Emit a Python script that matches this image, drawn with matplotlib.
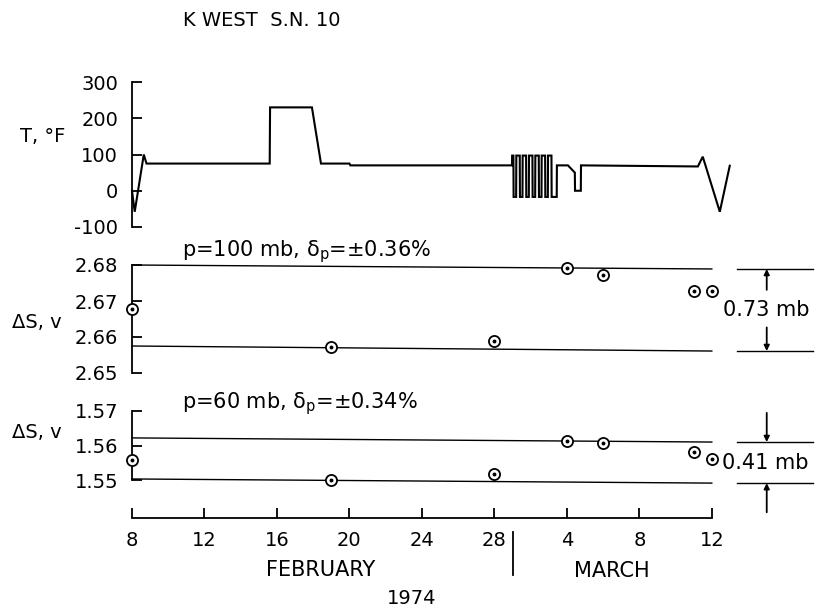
import matplotlib
matplotlib.use("Agg")
import matplotlib.pyplot as plt
from matplotlib.transforms import blended_transform_factory

plt.rcParams['font.family'] = ['DejaVu Sans']
plt.rcParams['mathtext.fontset'] = 'dejavusans'

W, H, DPI = 817, 608, 100

# ---------------- data ----------------
# temperature trace, day counted from Feb 0 1974 (Mar 1 = 29)
t_day = [8.0, 8.15, 8.65, 8.8, 15.6, 15.62, 17.93, 18.43, 20.0, 20.05,
         28.97, 28.98, 29.05, 29.06, 29.2, 29.21, 29.4, 29.41, 29.55, 29.56,
         29.75, 29.76, 29.9, 29.91, 30.1, 30.11, 30.25, 30.26, 30.45, 30.46,
         30.6, 30.61, 30.8, 30.81, 30.95, 30.96, 31.15, 31.16, 31.44, 31.45,
         32.06, 32.44, 32.45, 32.77, 32.78, 39.23, 39.5, 40.44, 40.99]
t_val = [0, -58, 100, 75, 75, 230, 230, 75, 75, 70,
         70, 97, 97, -17, -17, 97, 97, -17, -17, 97,
         97, -17, -17, 97, 97, -17, -17, 97, 97, -17,
         -17, 97, 97, -17, -17, 97, 97, -17, -17, 70,
         70, 50, 0, 0, 70, 67, 94, -58, 69]

dates = [8, 19, 28, 32, 34, 39, 40]
ds100 = [2.6678, 2.6572, 2.6589, 2.6792, 2.6772, 2.6728, 2.6728]
ds60 = [1.5558, 1.5500, 1.5517, 1.5613, 1.5607, 1.5581, 1.5561]

limit_x = [8, 40]
ds100_upper = [2.6800, 2.6789]
ds100_lower = [2.6575, 2.6561]
ds60_upper = [1.5622, 1.5610]
ds60_lower = [1.5503, 1.5491]

x_ticks = [8, 12, 16, 20, 24, 28, 32, 36, 40]
x_ticklabels = ['8', '12', '16', '20', '24', '28', '4', '8', '12']
t_ticks = [-100, 0, 100, 200, 300]
ds100_ticks = [2.65, 2.66, 2.67, 2.68]
ds60_ticks = [1.55, 1.56, 1.57]

title = "K WEST  S.N. 10"
label100 = r"p=100 mb, δ$_\mathrm{p}$=±0.36%"
label60 = r"p=60 mb, δ$_\mathrm{p}$=±0.34%"
span100 = "0.73 mb"
span60 = "0.41 mb"

# ---------------- layout ----------------
fig = plt.figure(figsize=(W / DPI, H / DPI), dpi=DPI)

def ax_px(left, top, right, bottom):
    return fig.add_axes([left / W, 1 - bottom / H, (right - left) / W, (bottom - top) / H])

XL, XR = 132, 739
XLIM = (8, 41.5)
TS = 14
LW = 1.3

def style(ax, yticks, ylim, fmt):
    ax.set_xlim(*XLIM)
    ax.set_ylim(*ylim)
    for s in ['top', 'right', 'bottom']:
        ax.spines[s].set_visible(False)
    ax.spines['left'].set_linewidth(LW)
    ax.set_yticks(yticks)
    ax.set_yticklabels([fmt(v) for v in yticks])
    ax.tick_params(axis='y', direction='in', length=7, width=LW, labelsize=TS, pad=10)
    ax.tick_params(axis='x', bottom=False, labelbottom=False)
    ax.patch.set_visible(False)

ax1 = ax_px(XL, 82, XR, 227)
ax2 = ax_px(XL, 265, XR, 373)
ax3 = ax_px(XL, 411, XR, 480)

style(ax1, t_ticks, (-100, 300), lambda v: f"{v:d}")
style(ax2, ds100_ticks, (2.65, 2.68), lambda v: f"{v:.2f}")
style(ax3, ds60_ticks, (1.55, 1.57), lambda v: f"{v:.2f}")

ax1.plot(t_day, t_val, color='black', lw=1.5, clip_on=False, solid_joinstyle='miter')

def points(ax, x, y):
    ax.plot(x, y, 'o', ms=8, mfc='white', mec='black', mew=1.3, clip_on=False, zorder=5)
    ax.plot(x, y, 'o', ms=1.8, mfc='black', mec='black', clip_on=False, zorder=6)

for ax, up, lo, vals in [(ax2, ds100_upper, ds100_lower, ds100),
                         (ax3, ds60_upper, ds60_lower, ds60)]:
    ax.plot(limit_x, up, color='black', lw=1.0, clip_on=False)
    ax.plot(limit_x, lo, color='black', lw=1.0, clip_on=False)
    points(ax, dates, vals)
    # bracket lines at right
    ax.plot([41.38, 45.57], [up[-1], up[-1]], color='black', lw=1.0, clip_on=False)
    ax.plot([41.38, 45.57], [lo[-1], lo[-1]], color='black', lw=1.0, clip_on=False)

AX_ARROW = 43.03
arrow_kw = dict(arrowstyle='-|>', color='black', lw=1.3, mutation_scale=8, shrinkA=0, shrinkB=0)

# 100 mb span: arrows inside
ax2.annotate('', xy=(AX_ARROW, ds100_upper[-1]), xytext=(0, -15), textcoords='offset points',
             arrowprops=arrow_kw, annotation_clip=False)
ax2.annotate('', xy=(AX_ARROW, ds100_lower[-1]), xytext=(0, 17), textcoords='offset points',
             arrowprops=arrow_kw, annotation_clip=False)
ax2.text(AX_ARROW - 0.05, (ds100_upper[-1] + ds100_lower[-1]) / 2, span100, ha='center', va='center',
         fontsize=15, clip_on=False)

# 60 mb span: arrows outside
ax3.annotate('', xy=(AX_ARROW, ds60_upper[-1]), xytext=(0, 21), textcoords='offset points',
             arrowprops=arrow_kw, annotation_clip=False)
ax3.annotate('', xy=(AX_ARROW, ds60_lower[-1]), xytext=(0, -21), textcoords='offset points',
             arrowprops=arrow_kw, annotation_clip=False)
ax3.text(AX_ARROW - 0.1, (ds60_upper[-1] + ds60_lower[-1]) / 2, span60, ha='center', va='center',
         fontsize=15, clip_on=False)

# bottom axis
ax3.spines['bottom'].set_visible(True)
ax3.spines['bottom'].set_position(('outward', 38 * 72 / DPI))
ax3.spines['bottom'].set_bounds(8, 40)
ax3.spines['bottom'].set_linewidth(LW)
ax3.set_xticks(x_ticks)
ax3.set_xticklabels(x_ticklabels)
ax3.tick_params(axis='x', bottom=True, labelbottom=True, direction='in', length=7,
                width=LW, labelsize=TS, pad=9)

# month separator
tr = blended_transform_factory(ax3.transData, fig.transFigure)
ax3.plot([29, 29], [1 - 532 / H, 1 - 575 / H], color='black', lw=1.3, transform=tr, clip_on=False)

def ftext(px, py, s, **kw):
    fig.text(px / W, 1 - py / H, s, **kw)

ftext(183, 20, title, fontsize=14, ha='left', va='center')
ftext(20, 137, "T, °F", fontsize=14, ha='left', va='center')
ftext(12, 322, "ΔS, v", fontsize=14, ha='left', va='center')
ftext(12, 433, "ΔS, v", fontsize=14, ha='left', va='center')
ftext(182, 256, label100, fontsize=15, ha='left', va='baseline')
ftext(182, 408, label60, fontsize=15, ha='left', va='baseline')
ftext(321, 570, "FEBRUARY", fontsize=15, ha='center', va='center')
ftext(612, 571, "MARCH", fontsize=15, ha='center', va='center')
ftext(412, 598, "1974", fontsize=14, ha='center', va='center')

fig.savefig("out.png", dpi=DPI)
